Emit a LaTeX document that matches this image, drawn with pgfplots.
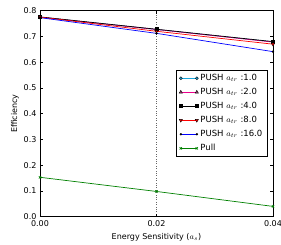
\documentclass[border=0pt]{standalone}
\usepackage{pgfplots}
\pgfplotsset{compat=1.18}
\usepackage{fontspec}
\setmainfont{DejaVu Sans}
\begin{document}
\begin{tikzpicture}[x=1pt,y=1pt]
\begin{axis}[
  scale only axis,
  width=233pt, height=206pt,
  xmin=0, xmax=0.04, ymin=0, ymax=0.8,
  xtick={0,0.02,0.04},
  xticklabels={0.00,0.02,0.04},
  scaled x ticks=false,
  ytick={0,0.1,...,0.8},
  yticklabel style={/pgf/number format/fixed,/pgf/number format/precision=1,/pgf/number format/fixed zerofill},
  /pgf/number format/assume math mode=true,
  tick align=inside,
  tick style={black, line width=0.5pt},
  major tick length=3pt,
  xmajorgrids, major x grid style={dotted, gray!80!black, line width=0.6pt},
  axis line style={line width=0.8pt},
  font=\fontsize{8}{9}\selectfont,
  tick label style={font=\fontsize{8}{9}\selectfont},
  xlabel={Energy Sensitivity ($a_s$)},
  ylabel={Efficiency},
  xlabel style={yshift=0pt},
  ylabel style={yshift=-2pt},
  clip=false,
  legend style={at={(0.977,0.712)}, anchor=north east, draw=black, line width=0.6pt,
    font=\fontsize{8.5}{10}\selectfont, inner xsep=3pt, inner ysep=2pt, row sep=2.2pt, cells={anchor=west}},
  legend image code/.code={\draw (0pt,0pt)--(16pt,0pt); \draw plot coordinates {(0pt,0pt)}; \draw plot coordinates {(16pt,0pt)};},
  every axis plot/.append style={line width=0.7pt},
]
\addplot[cyan!80!teal, mark=*, mark size=1.5pt, mark options={fill=cyan!70!teal, draw=black, line width=0.4pt}] coordinates {(0,0.775) (0.02,0.727) (0.04,0.679)};
\addlegendentry{PUSH $a_{tr}$ :1.0}
\addplot[magenta, mark=triangle*, mark size=1.9pt, mark options={fill=magenta!60!black, draw=black, line width=0.4pt}] coordinates {(0,0.775) (0.02,0.727) (0.04,0.678)};
\addlegendentry{PUSH $a_{tr}$ :2.0}
\addplot[black, mark=square*, mark size=1.5pt] coordinates {(0,0.776) (0.02,0.728) (0.04,0.680)};
\addlegendentry{PUSH $a_{tr}$ :4.0}
\addplot[red, mark=triangle*, mark size=1.9pt, mark options={rotate=180, fill=red, draw=black, line width=0.4pt}] coordinates {(0,0.775) (0.02,0.720) (0.04,0.670)};
\addlegendentry{PUSH $a_{tr}$ :8.0}
\addplot[blue, mark=*, mark size=1pt, mark options={fill=black, draw=black, line width=0.3pt}] coordinates {(0,0.773) (0.02,0.712) (0.04,0.641)};
\addlegendentry{PUSH $a_{tr}$ :16.0}
\addplot[green!50!black, mark=x, mark size=1.6pt] coordinates {(0,0.153) (0.02,0.098) (0.04,0.040)};
\addlegendentry{Pull}
\end{axis}
\pgfresetboundingbox
\path[use as bounding box] (current axis.south west)++(-40pt,-28pt) rectangle ([xshift=8pt,yshift=10.7pt]current axis.north east);
\end{tikzpicture}
\end{document}
